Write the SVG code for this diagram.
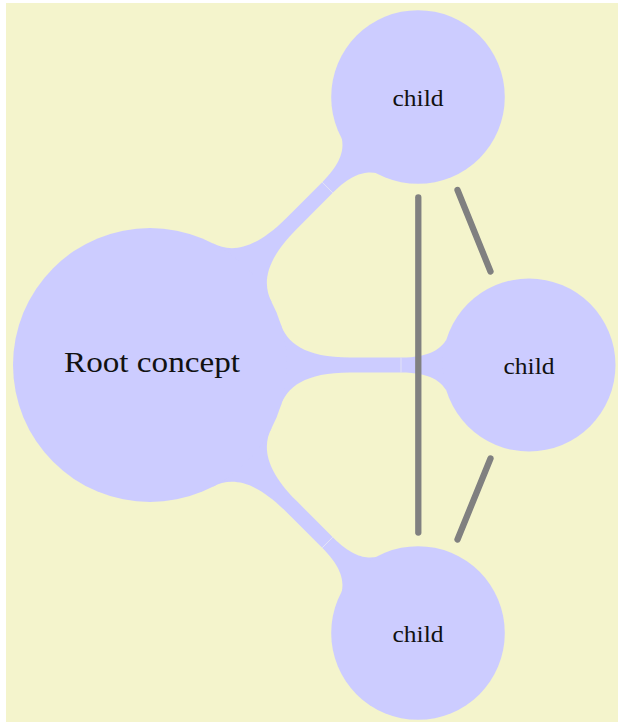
<svg xmlns="http://www.w3.org/2000/svg" width="618" height="724" viewBox="0 0 618 724">
<style>
.node{fill:#ccccff}
.bar{fill:#ccccff}
.seam{stroke:#ebebf2;stroke-width:0.7;fill:none}
.rel{stroke:#808080;stroke-width:6.3;stroke-linecap:round;fill:none}
.lbl{font-family:"Liberation Serif","Times New Roman",serif;fill:#111;text-anchor:middle}
</style>
<defs>
<path id="cbar" d="M 130.5 -41.7 C 136.5 -22 155 -7.5 200 -7.5 L 251 -7.5 C 281 -7.5 291 -17 296.3 -25.3 L 296.3 25.3 C 291 17 281 7.5 251 7.5 L 200 7.5 C 155 7.5 136.5 22 130.5 41.7 Z"/>
</defs>
<rect x="6" y="3" width="612" height="719" fill="#f4f4cc"/>
<g id="connectors">
<g transform="translate(150,365) rotate(-45)">
<use href="#cbar" class="bar"/>
<line class="seam" x1="251" y1="-7.5" x2="251" y2="7.5"/>
</g>
<g transform="translate(150,365)">
<use href="#cbar" class="bar"/>
<line class="seam" x1="251" y1="-7.5" x2="251" y2="7.5"/>
</g>
<g transform="translate(150,365) rotate(45)">
<use href="#cbar" class="bar"/>
<line class="seam" x1="251" y1="-7.5" x2="251" y2="7.5"/>
</g>
</g>
<g id="root">
<circle class="node" cx="150" cy="365" r="137"/>
<text class="lbl" x="152" y="372" font-size="30" textLength="176" lengthAdjust="spacingAndGlyphs">Root concept</text>
</g>
<g id="child-top">
<circle class="node" cx="418" cy="97" r="86.8"/>
<text class="lbl" x="418" y="106" font-size="23.5" textLength="51" lengthAdjust="spacingAndGlyphs">child</text>
</g>
<g id="child-mid">
<circle class="node" cx="529" cy="365" r="86.5"/>
<text class="lbl" x="529" y="374" font-size="23.5" textLength="51" lengthAdjust="spacingAndGlyphs">child</text>
</g>
<g id="child-bottom">
<circle class="node" cx="418" cy="633" r="86.8"/>
<text class="lbl" x="418" y="642" font-size="23.5" textLength="51" lengthAdjust="spacingAndGlyphs">child</text>
</g>
<g id="relations">
<line class="rel" x1="418.3" y1="197.5" x2="418.3" y2="532.5"/>
<line class="rel" x1="457.5" y1="190" x2="490.5" y2="271.5"/>
<line class="rel" x1="490.5" y1="458.5" x2="457.5" y2="539.5"/>
</g>
</svg>
